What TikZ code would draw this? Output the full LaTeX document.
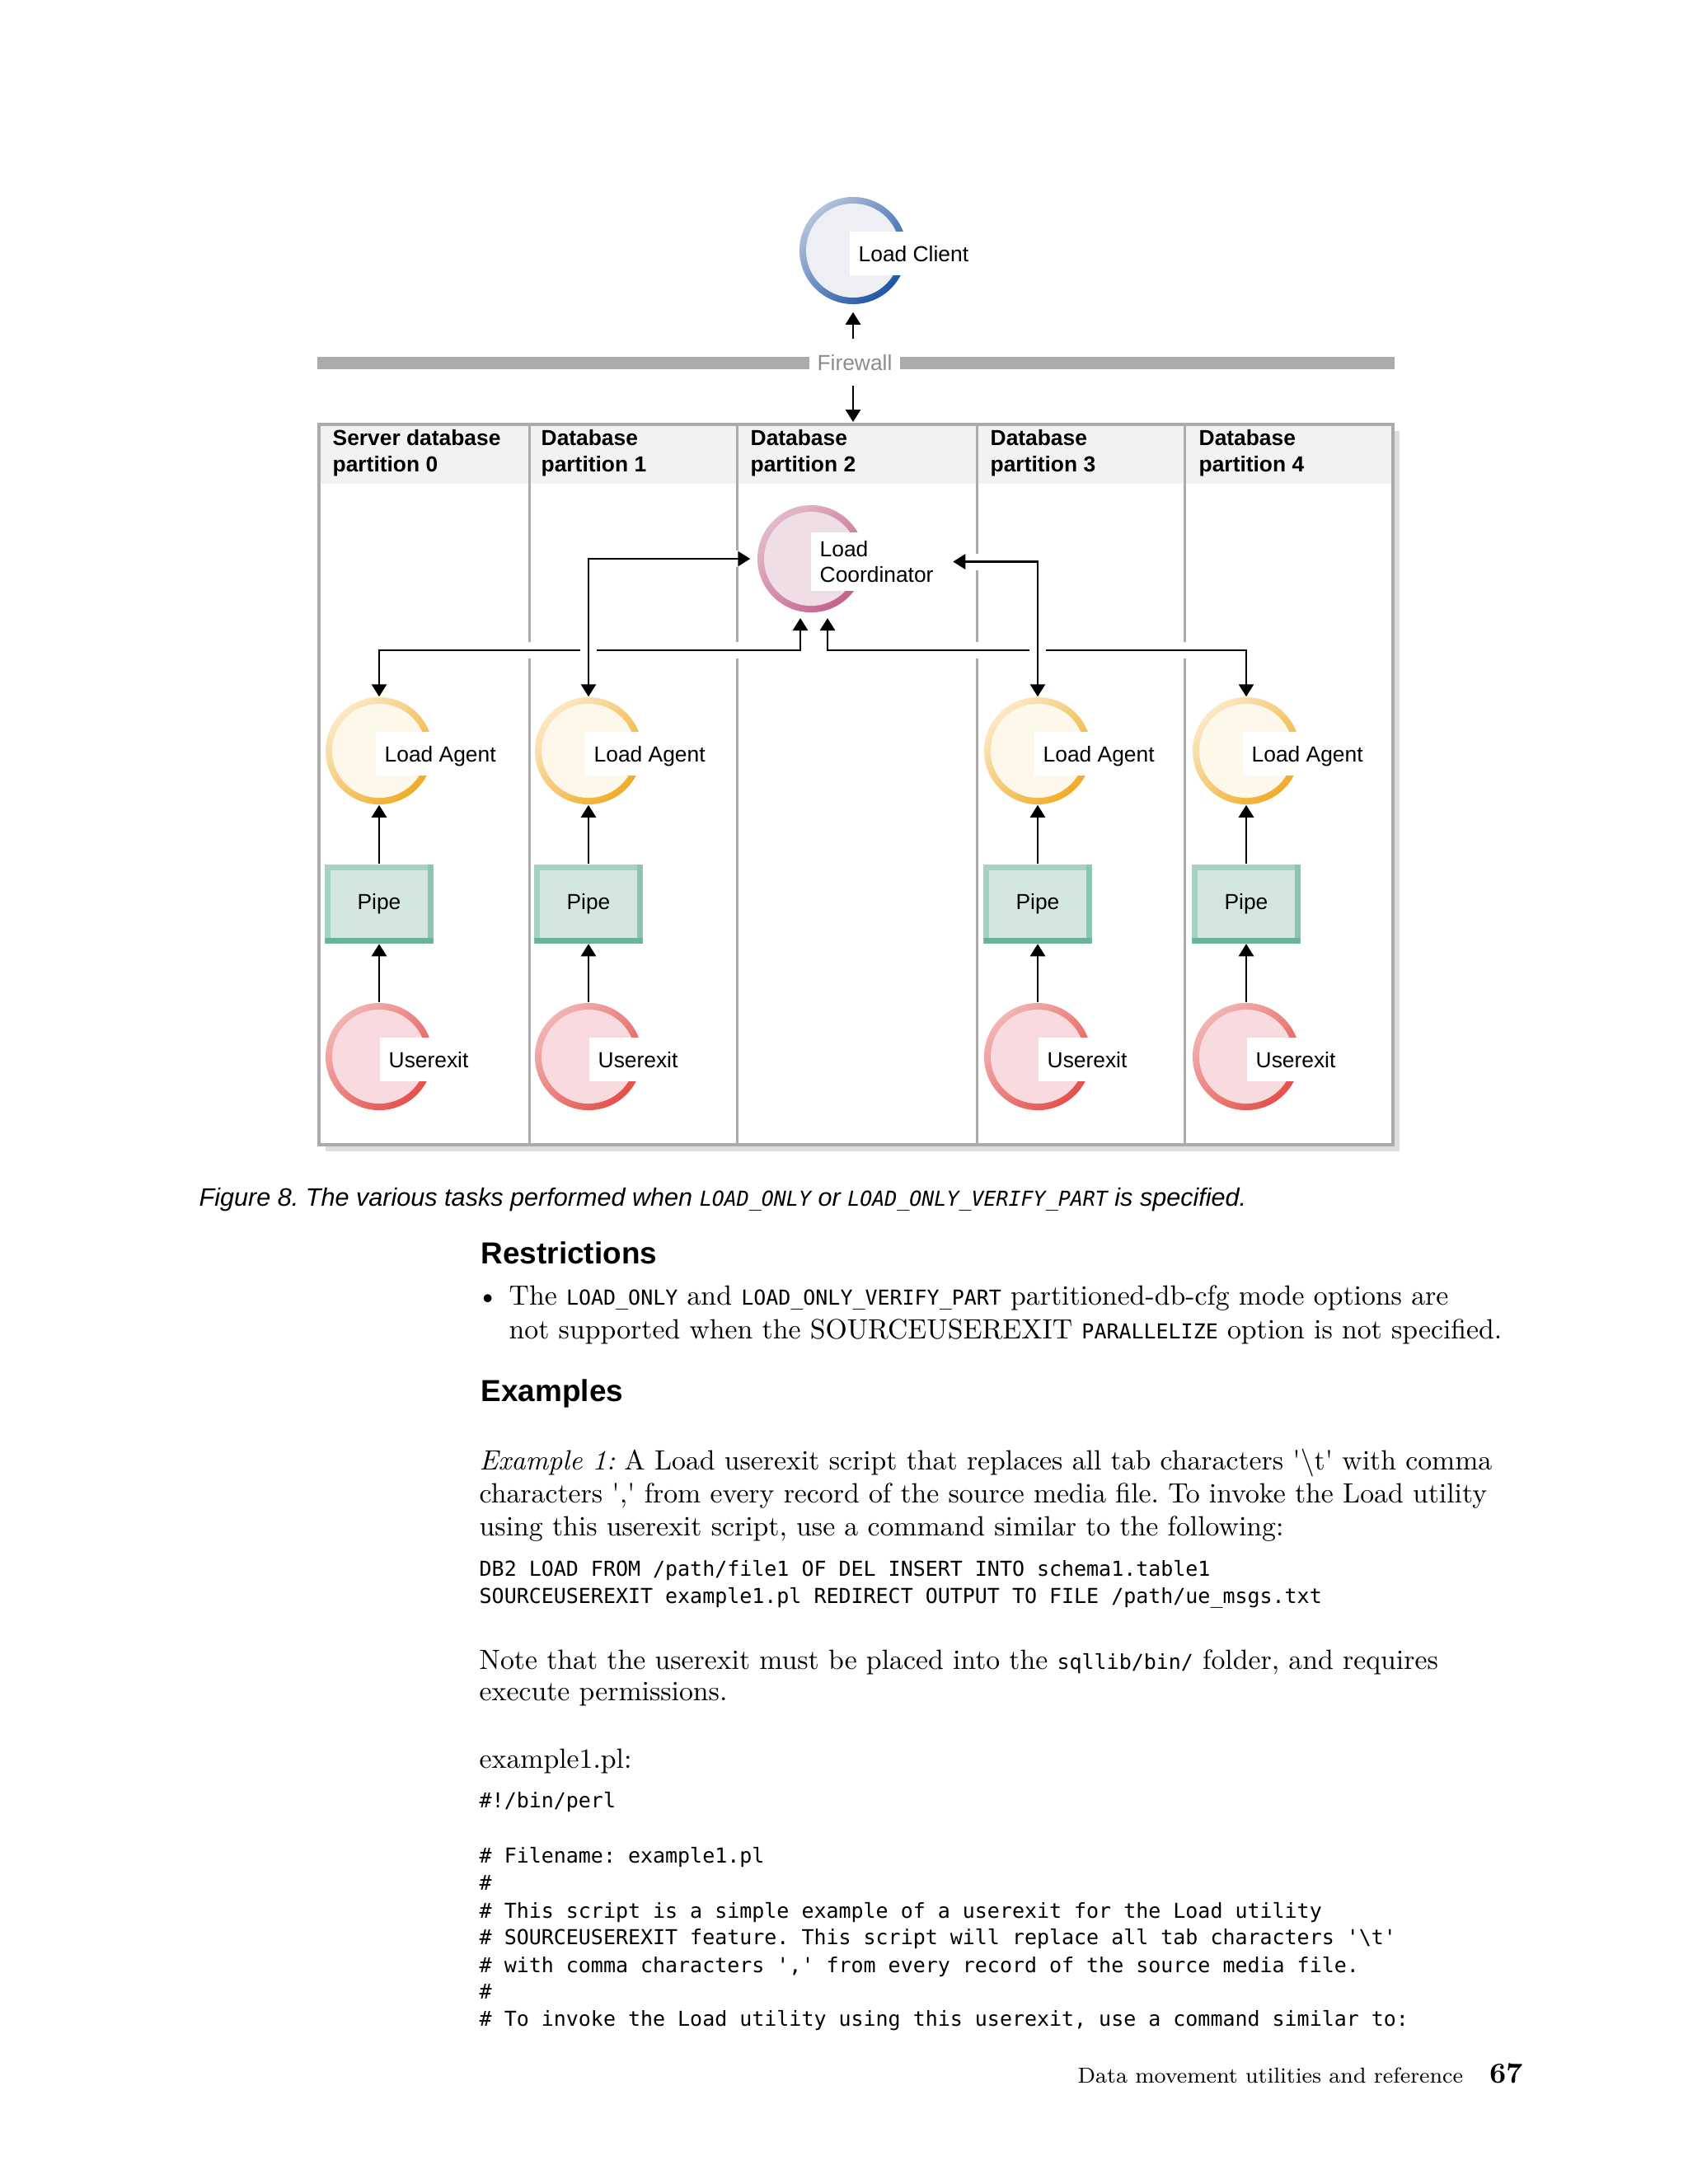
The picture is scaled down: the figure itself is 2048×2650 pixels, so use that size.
\documentclass[tikz,border=0pt]{standalone}
\usepackage{fontspec}
\setsansfont{Liberation Sans}
\newfontfamily\codefont{DejaVu Sans Mono}
\usetikzlibrary{arrows.meta,positioning}
\frenchspacing

\definecolor{wallgray}{HTML}{ABABAB}
\definecolor{firewalltext}{HTML}{8C8C8C}
\definecolor{headfill}{HTML}{F2F2F4}
\definecolor{shadowgray}{HTML}{DEDEDE}
\definecolor{clientlight}{HTML}{B4C2DC}
\definecolor{clientdark}{HTML}{1E55A6}
\definecolor{clientfill}{HTML}{EDEFF4}
\definecolor{coordlight}{HTML}{E2BACA}
\definecolor{coorddark}{HTML}{C4618A}
\definecolor{coordfill}{HTML}{F0DEE6}
\definecolor{agentlight}{HTML}{FCE8C4}
\definecolor{agentdark}{HTML}{EFAC28}
\definecolor{agentfill}{HTML}{FEF8EA}
\definecolor{exitlight}{HTML}{F2B4B4}
\definecolor{exitdark}{HTML}{E4504A}
\definecolor{exitfill}{HTML}{F8DADF}
\definecolor{pipefill}{HTML}{D3E7E0}
\definecolor{pipelight}{HTML}{A6D2C5}
\definecolor{pipemid}{HTML}{8CC4B3}
\definecolor{pipedark}{HTML}{6AB29C}

\newcommand{\mono}[1]{{\codefont\fontsize{7.1}{10}\selectfont #1}}
\newcommand{\tick}{\textquotesingle}

\begin{document}
\begin{tikzpicture}[
    x=0.01cm, y=-0.01cm,
    node distance=0.71cm,
    ring/.style n args={3}{circle, minimum size=1.3cm, inner sep=0pt, top color=#1, bottom color=#2, shading angle=45, path picture={\fill[#3] (path picture bounding box.center) circle (0.57cm);}},
    client/.style={ring={clientlight}{clientdark}{clientfill}},
    coordinator/.style={ring={coordlight}{coorddark}{coordfill}},
    agent/.style={ring={agentlight}{agentdark}{agentfill}},
    userexit/.style={ring={exitlight}{exitdark}{exitfill}},
    tag/.style={fill=white, inner xsep=0.11cm, inner ysep=0.1cm, text height=0.75em, text depth=0.2em, yshift=-0.035cm, font=\sffamily\fontsize{7.5}{9}\selectfont},
    pipe/.style={rectangle, minimum width=1.31cm, minimum height=0.96cm, inner sep=0pt, fill=pipelight, font=\sffamily\fontsize{7.5}{9}\selectfont, path picture={
        \fill[pipemid] ([xshift=-0.07cm]path picture bounding box.north east) rectangle (path picture bounding box.south east);
        \fill[pipedark] (path picture bounding box.south west) rectangle ([yshift=0.07cm]path picture bounding box.south east);
        \fill[pipefill] ([shift={(0.07cm,0.07cm)}]path picture bounding box.south west) rectangle ([shift={(-0.07cm,-0.07cm)}]path picture bounding box.north east);}},
    head/.style={anchor=north west, inner sep=0pt, align=left, font=\sffamily\bfseries\fontsize{7.5}{9.1}\selectfont},
    wall/.style={draw=wallgray, line width=0.15cm},
    frame/.style={draw=wallgray, line width=0.035cm},
    grid/.style={draw=wallgray, line width=0.03cm},
    arrow/.style={thick, ->, >={Triangle[length=0.15cm, width=0.18cm]}},
    link/.style={arrow, <->, preaction={draw=white, line width=0.2cm, -}},
    caption/.style={anchor=base west, inner sep=0pt, font=\sffamily\itshape\fontsize{8.7}{10}\selectfont},
    heading/.style={anchor=base west, inner sep=0pt, font=\sffamily\bfseries\fontsize{10.5}{13}\selectfont},
    body/.style={anchor=base west, inner sep=0pt, font=\fontsize{9.6}{11.4}\selectfont},
    code/.style={anchor=base west, inner sep=0pt, font=\codefont\fontsize{7.1}{10}\selectfont}
]
\useasboundingbox (0,0) rectangle (2048,2650);

% Load client above the firewall
\node[client] (lc) at (1035,304) {};
\node[tag, right=-0.05cm of lc.center] (lct) {Load Client};

% Firewall
\draw[wall] (385,440) -- (1692,440);
\node[fill=white, inner xsep=0.095cm, inner ysep=0.05cm, text=firewalltext, font=\sffamily\fontsize{7.5}{9}\selectfont] (fw) at (1037,440) {Firewall};
\coordinate (boxtop) at (1035,515);

% Partition frame with shadow
\fill[shadowgray] (395,523) rectangle (1698,1397);
\fill[white] (387,515) rectangle (1690,1389);
\fill[headfill] (387,515) rectangle (1690,587);
\draw[grid] (642,515) -- (642,1389);
\draw[grid] (894,515) -- (894,1389);
\draw[grid] (1185,515) -- (1185,1389);
\draw[grid] (1437,515) -- (1437,1389);
\draw[frame] (387,515) rectangle (1690,1389);

% Partition headers
\node[head] (h0) at (403,521) {Server database\\partition 0};
\node[head] (h1) at (656,521) {Database\\partition 1};
\node[head] (h2) at (910,521) {Database\\partition 2};
\node[head] (h3) at (1201,521) {Database\\partition 3};
\node[head] (h4) at (1454,521) {Database\\partition 4};

% Load coordinator
\node[coordinator] (cd) at (984,678) {};
\node[tag, align=left, text height=, text depth=, right=-0.01cm of cd.center] (cdt) {Load\\Coordinator};

% Partition 0
\node[agent] (la0) at (460,911) {};
\node[tag, right=-0.05cm of la0.center] (la0t) {Load Agent};
\node[pipe, below=of la0] (pp0) {Pipe};
\node[userexit, below=of pp0] (ue0) {};
\node[tag, right=0cm of ue0.center] (ue0t) {Userexit};

% Partition 1
\node[agent] (la1) at (714,911) {};
\node[tag, right=-0.05cm of la1.center] (la1t) {Load Agent};
\node[pipe, below=of la1] (pp1) {Pipe};
\node[userexit, below=of pp1] (ue1) {};
\node[tag, right=0cm of ue1.center] (ue1t) {Userexit};

% Partition 3
\node[agent] (la3) at (1259,911) {};
\node[tag, right=-0.05cm of la3.center] (la3t) {Load Agent};
\node[pipe, below=of la3] (pp3) {Pipe};
\node[userexit, below=of pp3] (ue3) {};
\node[tag, right=0cm of ue3.center] (ue3t) {Userexit};

% Partition 4
\node[agent] (la4) at (1512,911) {};
\node[tag, right=-0.05cm of la4.center] (la4t) {Load Agent};
\node[pipe, below=of la4] (pp4) {Pipe};
\node[userexit, below=of pp4] (ue4) {};
\node[tag, right=0cm of ue4.center] (ue4t) {Userexit};

% Arrows through the firewall
\draw[arrow, shorten <=0.14cm, shorten >=0.09cm] (fw.north -| lc) -- (lc);
\draw[arrow, shorten <=0.13cm, shorten >=0.03cm] (fw.south -| boxtop) -- (boxtop);

% Userexit -> pipe -> agent
\draw[arrow] (ue0) -- (pp0);
\draw[arrow] (pp0) -- (la0);
\draw[arrow] (ue1) -- (pp1);
\draw[arrow] (pp1) -- (la1);
\draw[arrow] (ue3) -- (pp3);
\draw[arrow] (pp3) -- (la3);
\draw[arrow] (ue4) -- (pp4);
\draw[arrow] (pp4) -- (la4);

% Agents <-> coordinator
\coordinate (busl) at (971,789);
\coordinate (busr) at (1004,789);
\draw[link] (la0) |- (busl) -- ++(0,-39);
\draw[link] (la4) |- (busr) -- ++(0,-39);
\draw[link] (la1) |- ([xshift=-0.08cm]cd.west);
\draw[link] (la3) |- ([xshift=0.12cm]cdt.east);

% Caption
\node[caption] (cap) at (241,1463) {Figure 8. The various tasks performed when \mono{LOAD\_ONLY} or \mono{LOAD\_ONLY\_VERIFY\_PART} is specified.};

% Restrictions
\node[heading] (restr) at (583,1533) {Restrictions};
\node[body] (bul) at (578,1583) {\textbullet};
\node[body] (r1) at (617,1583) {The \mono{LOAD\_ONLY} and \mono{LOAD\_ONLY\_VERIFY\_PART} partitioned-db-cfg mode options are};
\node[body] (r2) at (617,1624) {not supported when the SOURCEUSEREXIT \mono{PARALLELIZE} option is not specified.};

% Examples
\node[heading] (exam) at (583,1700) {Examples};
\node[body] (e1) at (581,1783) {\textit{Example 1:} A Load userexit script that replaces all tab characters \tick\textbackslash t\tick{} with comma};
\node[body] (e2) at (581,1823) {characters \tick,\tick{} from every record of the source media file. To invoke the Load utility};
\node[body] (e3) at (581,1863) {using this userexit script, use a command similar to the following:};
\node[code] (c1) at (581,1912) {DB2 LOAD FROM /path/file1 OF DEL INSERT INTO schema1.table1};
\node[code] (c2) at (581,1945) {SOURCEUSEREXIT example1.pl REDIRECT OUTPUT TO FILE /path/ue\_msgs.txt};
\node[body] (n1) at (581,2025) {Note that the userexit must be placed into the \mono{sqllib/bin/} folder, and requires};
\node[body] (n2) at (581,2063) {execute permissions.};
\node[body] (pl) at (581,2145) {example1.pl:};

% Script listing
\node[code] (p1) at (581,2193) {\#!/bin/perl};
\node[code] (p2) at (581,2260) {\# Filename: example1.pl};
\node[code] (p3) at (581,2293) {\#};
\node[code] (p4) at (581,2327) {\# This script is a simple example of a userexit for the Load utility};
\node[code] (p5) at (581,2359) {\# SOURCEUSEREXIT feature. This script will replace all tab characters \tick\textbackslash t\tick};
\node[code] (p6) at (581,2393) {\# with comma characters \tick,\tick{} from every record of the source media file.};
\node[code] (p7) at (581,2425) {\#};
\node[code] (p8) at (581,2458) {\# To invoke the Load utility using this userexit, use a command similar to:};

% Footer
\node[anchor=base west, inner sep=0pt, font=\fontsize{7.5}{10}\selectfont] (foot) at (1307,2527) {Data movement utilities and reference};
\node[anchor=base west, inner sep=0pt, font=\bfseries\fontsize{10}{13}\selectfont] (page) at (1807,2527) {67};

\end{tikzpicture}
\end{document}
